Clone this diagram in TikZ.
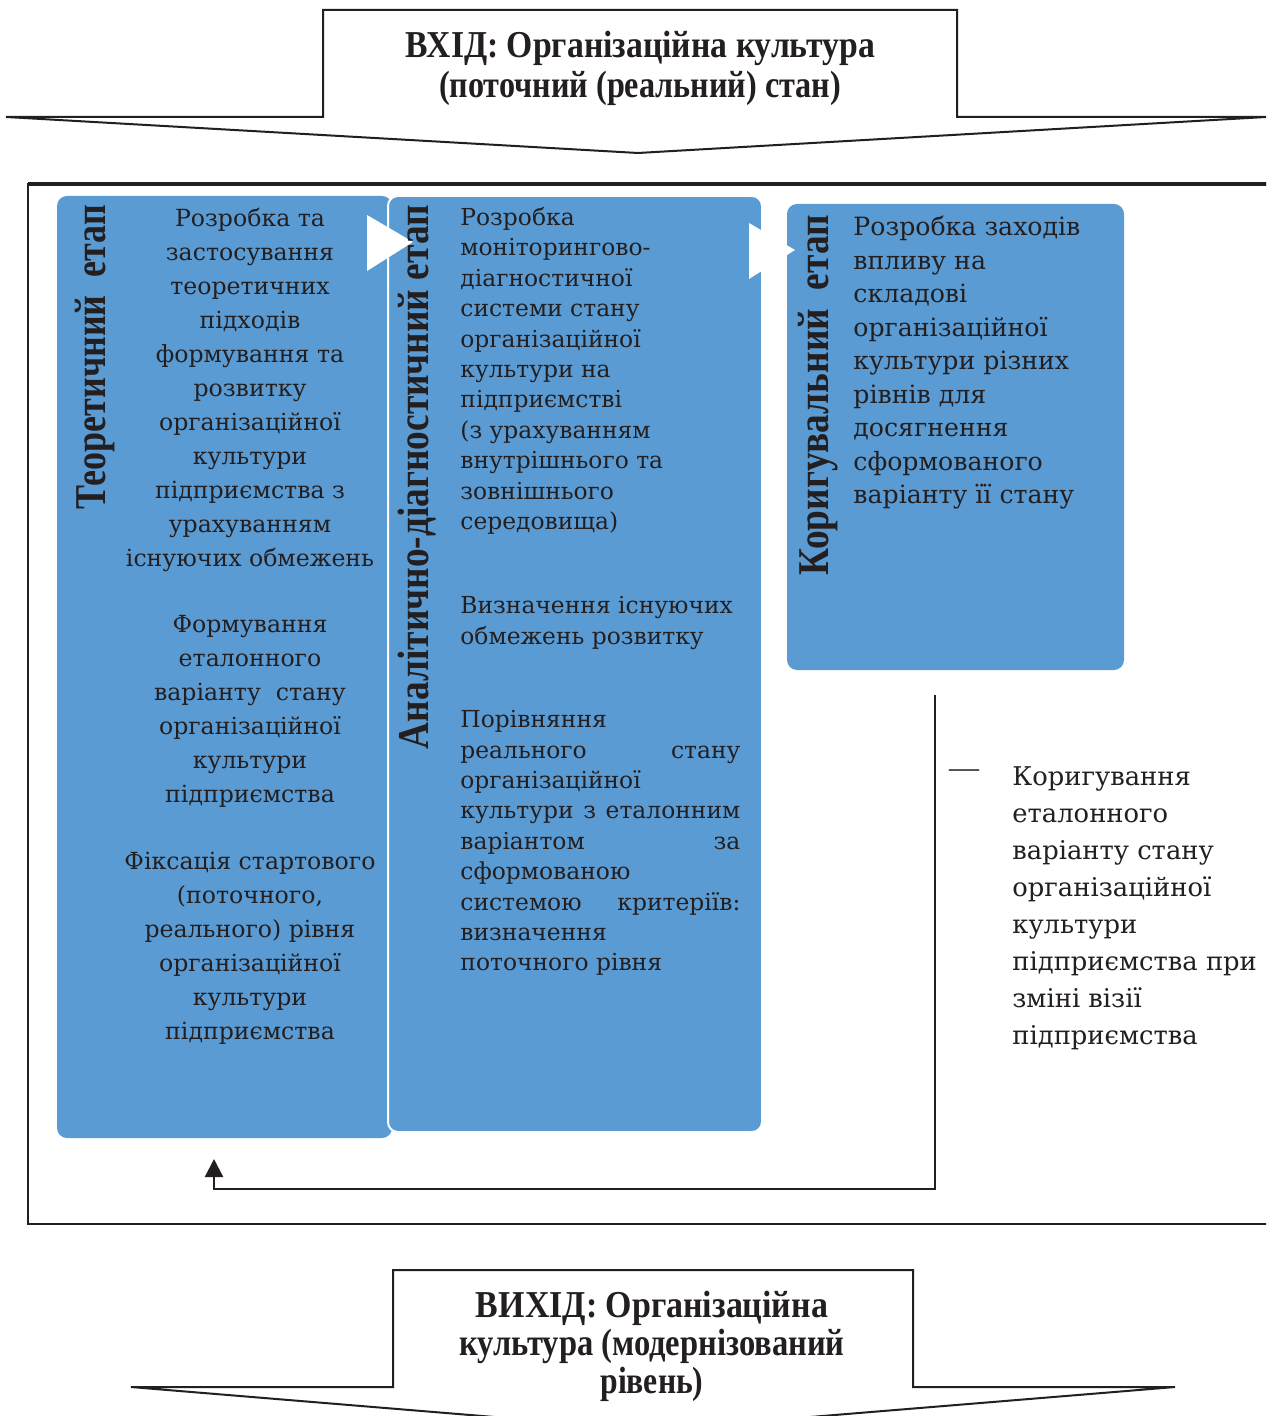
\documentclass[tikz,border=0pt]{standalone}
\usepackage{fontspec}
\usepackage{graphicx}
\setmainfont{Liberation Serif}
\newfontfamily\bodyfont{DejaVu Serif}
\usetikzlibrary{arrows.meta}
\definecolor{stageblue}{RGB}{91,155,211}
\definecolor{ink}{RGB}{35,31,32}
\begin{document}
\begin{tikzpicture}[x=0.5pt,y=-0.5pt,
  every node/.style={inner sep=0pt,text=ink},
  stagebox/.style={fill=stageblue,rounded corners=5pt},
  outline/.style={draw=ink,line width=1pt},
  headtext/.style={align=center,font=\fontsize{19}{20}\selectfont\bfseries},
  stagelabel/.style={rotate=90,anchor=base},
  textA/.style={align=center,anchor=north,font=\bodyfont\fontsize{11.8}{17}\selectfont},
  textB/.style={align=left,anchor=north west,font=\bodyfont\fontsize{11.7}{15.2}\selectfont},
  textC/.style={align=left,anchor=north west,font=\bodyfont\fontsize{12.6}{16.75}\selectfont},
  textD/.style={align=left,anchor=north west,font=\bodyfont\fontsize{12.9}{18.5}\selectfont},
  feedback/.style={draw=ink,line width=1.1pt}
]
\useasboundingbox (0,0) rectangle (1266,1416);
\clip (0,0) rectangle (1266,1416);
\fill[white] (0,0) rectangle (1266,1416);

% input arrow
\draw[outline,fill=white] (6,117) -- (323,117) -- (323,10) -- (957,10) -- (957,117)
  -- (1266,117) -- (638,153) -- cycle;
\node[headtext] (inhead) at (640,68)
  {\resizebox{235pt}{\height}{ВХІД: Організаційна культура}\\
   \resizebox{201pt}{\height}{(поточний (реальний) стан)}};

% frame
\draw[draw=ink,line width=1pt] (28,184) rectangle (1290,1224);
\draw[draw=ink,line width=1.6pt] (28,184) -- (1290,184);

% stage boxes
\node[stagebox,minimum width=167.5pt,minimum height=471pt] (b1) at (224.5,667) {};
\node[stagebox,draw=white,line width=1pt,minimum width=187pt,minimum height=468pt] (b2) at (575,664) {};
\node[stagebox,minimum width=168.5pt,minimum height=233pt] (b3) at (955.5,437) {};

% white arrow marks
\fill[white] (367,215) -- (413,242) -- (367,271) -- cycle;
\fill[white] (749,223) -- (795,250) -- (749,279) -- cycle;

% stage labels
\node[stagelabel] (l1) at (105,357)
  {\resizebox{152pt}{\height}{\fontsize{22}{22}\selectfont\bfseries Теоретичний\ \ етап}};
\node[stagelabel] (l2) at (428,477)
  {\resizebox{272pt}{\height}{\fontsize{22}{22}\selectfont\bfseries Аналітично-діагностичний етап}};
\node[stagelabel] (l3) at (828,395)
  {\resizebox{180pt}{\height}{\fontsize{22}{22}\selectfont\bfseries Коригувальний\ \ етап}};

% box 1 texts
\node[textA] (t1a) at (250,208) {Розробка та\\застосування\\теоретичних\\підходів\\формування та\\розвитку\\організаційної\\культури\\підприємства з\\урахуванням\\існуючих обмежень};
\node[textA] (t1b) at (250,615) {Формування\\еталонного\\варіанту\ \ стану\\організаційної\\культури\\підприємства};
\node[textA] (t1c) at (250,852) {Фіксація стартового\\(поточного,\\реального) рівня\\організаційної\\культури\\підприємства};

% box 2 texts
\node[textB] (t2a) at (460,207) {Розробка\\моніторингово-\\діагностичної\\системи стану\\організаційної\\культури на\\підприємстві\\(з урахуванням\\внутрішнього та\\зовнішнього\\середовища)};
\node[textB] (t2b) at (460,596) {Визначення існуючих\\обмежень розвитку};
\node[textB] (t2c) at (460,710) {Порівняння\\\makebox[140pt][s]{реального стану}\\організаційної\\\makebox[140pt][s]{культури з еталонним}\\\makebox[140pt][s]{варіантом за}\\сформованою\\\makebox[140pt][s]{системою критеріїв:}\\визначення\\поточного рівня};

% box 3 text
\node[textC] (t3) at (853,216) {Розробка заходів\\впливу на\\складові\\організаційної\\культури різних\\рівнів для\\досягнення\\сформованого\\варіанту її стану};

% side note
\node[font=\fontsize{15}{15}\selectfont] (dash) at (964,774) {—};
\node[textD] (note) at (1012,766) {Коригування\\еталонного\\варіанту стану\\організаційної\\культури\\підприємства при\\зміні візії\\підприємства};

% feedback connector
\coordinate (fbtop) at (935,695);
\coordinate (fbcorner) at (935,1189);
\coordinate (fbleft) at (214,1189);
\coordinate (fbtip) at (214,1159);
\draw[feedback,-{Triangle[length=9pt,width=9pt]}] (fbtop) -- (fbcorner) -- (fbleft) -- (fbtip);

% output arrow
\draw[outline,fill=white] (131,1387) -- (393,1387) -- (393,1270) -- (913,1270) -- (913,1387)
  -- (1175,1387) -- (652,1430) -- cycle;
\node[headtext,font=\fontsize{19}{19}\selectfont\bfseries] (outhead) at (652,1346)
  {\resizebox{176pt}{\height}{ВИХІД: Організаційна}\\
   \resizebox{192.5pt}{\height}{культура (модернізований}\\
   \resizebox{51.5pt}{\height}{рівень)}};
\end{tikzpicture}
\end{document}
